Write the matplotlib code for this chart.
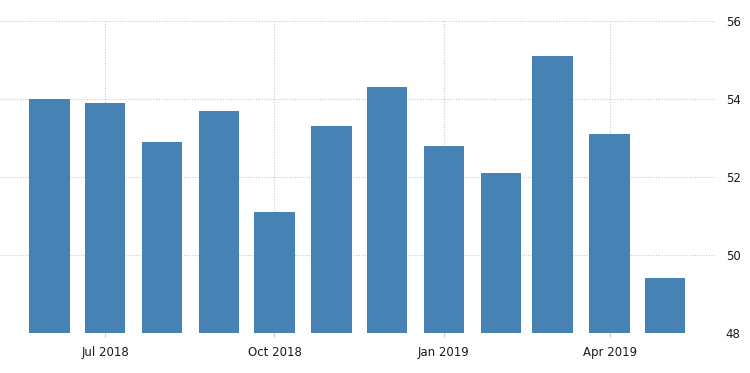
import datetime as dt
import matplotlib
matplotlib.use('Agg')
import matplotlib.pyplot as plt

# Monthly values, Jun 2018 - May 2019
MONTHS = [dt.date(2018, m, 1) for m in range(6, 13)] + \
         [dt.date(2019, m, 1) for m in range(1, 6)]
VALUES = [54.0, 53.9, 52.9, 53.7, 51.1, 53.3, 54.3, 52.8, 52.1, 55.1, 53.1, 49.4]
TICK_DATES = [dt.date(2018, 7, 1), dt.date(2018, 10, 1),
              dt.date(2019, 1, 1), dt.date(2019, 4, 1)]
TICK_LABELS = ['Jul 2018', 'Oct 2018', 'Jan 2019', 'Apr 2019']
Y_TICKS = [48, 50, 52, 54, 56]

fig = plt.figure(figsize=(7.5, 3.73), dpi=100)
ax = fig.add_axes([0.0, 0.107, 0.953, 0.837])

ax.bar(MONTHS, [v - 48 for v in VALUES], bottom=48, width=22,
       color='#4682b4', zorder=2)

ax.set_ylim(48, 56)
ax.set_xlim(dt.date(2018, 5, 5), dt.date(2019, 5, 28))
ax.set_yticks(Y_TICKS)
ax.set_xticks(TICK_DATES)
ax.set_xticklabels(TICK_LABELS)

ax.yaxis.tick_right()
ax.grid(True, color='#c8c8c8', linestyle=(0, (1, 1.5)), linewidth=0.8, zorder=0)
for spine in ax.spines.values():
    spine.set_visible(False)
ax.tick_params(axis='y', length=0, pad=8, labelsize=8.5, labelcolor='#1a1a1a')
ax.tick_params(axis='x', length=3, color='#c8c8c8', pad=6, labelsize=8.5,
               labelcolor='#1a1a1a')

fig.savefig('out.png', dpi=100)
